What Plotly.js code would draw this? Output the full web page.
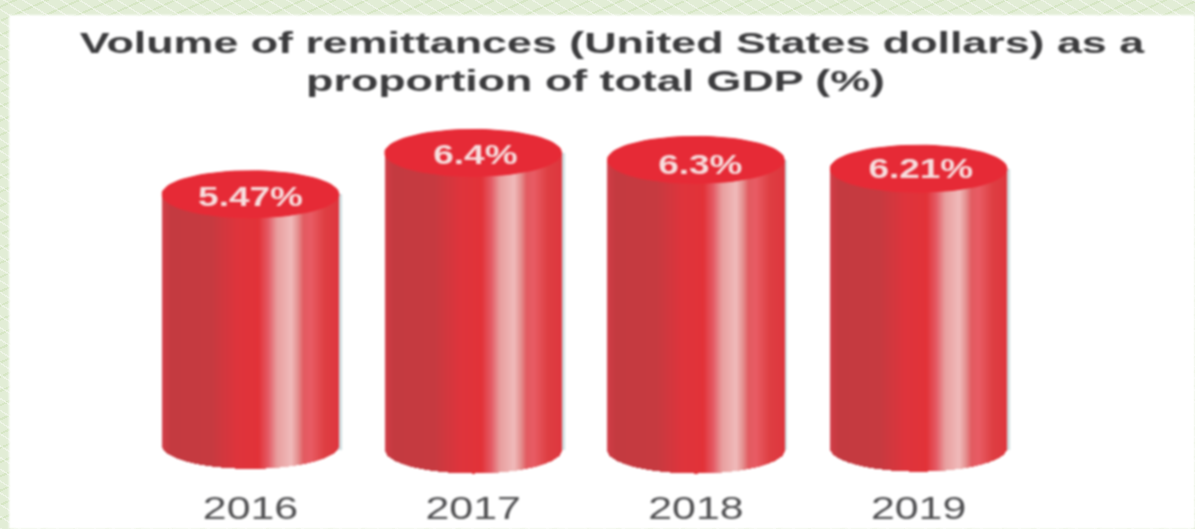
<!DOCTYPE html>
<html>
<head>
<meta charset="utf-8">
<script src="https://cdn.plot.ly/plotly-3.0.1.min.js"></script>
<style>
html,body{margin:0;padding:0;width:1195px;height:529px;overflow:hidden;}
body{background-color:#e2edd6;
background-image:
 repeating-linear-gradient(32deg,rgba(255,255,255,.4) 0 1.5px,transparent 1.5px 10px),
 repeating-linear-gradient(-24deg,rgba(200,222,176,.45) 0 2px,transparent 2px 13px);}
#chart{position:absolute;left:9px;top:15px;width:1186px;height:514px;filter:blur(1px);}
</style>
</head>
<body>
<div id="chart"></div>
<script>
var years = ["2016","2017","2018","2019"];
var valueLabels = ["5.47%","6.4%","6.3%","6.21%"];
// Column heights as they are drawn in the picture (the printed labels are in valueLabels)
var barHeights = [5.5,6.39,6.24,6.05];
var baseLift = [0.1,0,0,0.04];
var labelDrop = [0.1,0.1,0.17,0.05];

var stopPos = [0,0.015,0.05,0.28,0.42,0.545,0.6,0.65,0.73,0.77,0.8,0.84,0.92,1];
var stopCol = [[214,70,84],[205,60,68],[196,58,64],[198,58,64],[222,52,60],[226,50,56],[228,90,100],[232,158,158],[240,186,186],[228,140,140],[226,90,96],[232,92,100],[222,62,66],[222,54,62]];

var pxPerX = 222.7, pxPerY = 46.5;
var plotL = 0, plotW = 1186, plotT = 105, plotB = 470;
var x0px = 241.5, y0px = 435;
var barW = 177/pxPerX, ryV = 23.5/pxPerY;
var N = 177;

function colorAt(u){
  for(var i=1;i<stopPos.length;i++){
    if(u<=stopPos[i]){
      var t=(u-stopPos[i-1])/(stopPos[i]-stopPos[i-1]);
      var a=stopCol[i-1],b=stopCol[i];
      return 'rgb('+[0,1,2].map(function(k){return Math.round(a[k]+(b[k]-a[k])*t);}).join(',')+')';
    }
  }
  return 'rgb(222,54,62)';
}
var xIdx = years.map(function(_,i){return i;});
var traces = [];
traces.push({type:'bar',x:xIdx,y:barHeights,width:barW,offset:-barW/2+3/pxPerX,
  marker:{color:'rgba(190,210,212,0.75)',line:{width:0}},hoverinfo:'skip',showlegend:false});
for(var s=0;s<N;s++){
  (function(s){
    var u=(s+0.5)/N, dip=ryV*Math.sqrt(1-Math.pow(2*u-1,2));
    var bases=baseLift.map(function(l){return l-dip;});
    traces.push({
      type:'bar',x:xIdx,
      y:barHeights.map(function(v,i){return v-bases[i];}),
      base:bases,
      width:barW/N*1.3,
      offset:-barW/2+s*barW/N,
      marker:{color:colorAt(u),line:{width:0}},
      hoverinfo:'skip',showlegend:false
    });
  })(s);
}
barHeights.forEach(function(v,i){
  var xs=[],ys=[];
  for(var a=0;a<=72;a++){
    var th=a/72*2*Math.PI;
    xs.push(i+barW/2*Math.cos(th));
    ys.push(v+ryV*Math.sin(th));
  }
  traces.push({type:'scatter',mode:'lines',x:xs,y:ys,fill:'toself',fillcolor:'#e62a36',
    line:{color:'#ea2a36',width:1},hoverinfo:'skip',showlegend:false});
});
traces.push({type:'scatter',mode:'text',
  x:xIdx.map(function(i){return i+[0,0.01,0.02,0.01][i];}),
  y:barHeights.map(function(v,i){return v-labelDrop[i];}),
  text:valueLabels,textposition:'middle center',
  textfont:{family:'Liberation Sans, Arial, sans-serif',size:27,weight:'bold',color:'#f7dede'},
  hoverinfo:'skip',showlegend:false});

var layout = {
  width:1186,height:514,
  margin:{l:plotL,r:0,t:plotT,b:514-plotB,pad:0},
  paper_bgcolor:'#ffffff',plot_bgcolor:'rgba(0,0,0,0)',
  barmode:'overlay',bargap:0,showlegend:false,
  title:{text:'Volume of remittances (United States dollars) as a<br>proportion of total GDP (%)',
    x:603/1186,xanchor:'center',y:0.926,yanchor:'top',
    font:{family:'Liberation Sans, Arial, sans-serif',size:29,weight:'bold',color:'#3b3b3d'}},
  xaxis:{range:[(plotL-x0px)/pxPerX,(plotL+plotW-x0px)/pxPerX],tickmode:'array',tickvals:xIdx,ticktext:years,
    showgrid:false,zeroline:false,showline:false,ticks:'',ticklen:0,fixedrange:true,ticklabelstandoff:1,
    tickfont:{family:'Liberation Sans, Arial, sans-serif',size:32,color:'#505052'}},
  yaxis:{range:[(y0px-plotB)/pxPerY,(y0px-plotT)/pxPerY],showgrid:false,zeroline:false,showline:false,
    showticklabels:false,ticks:'',fixedrange:true},
  font:{family:'Liberation Sans, Arial, sans-serif'}
};
// The reference's lettering is horizontally stretched; widen the real text to match.
function stretch(el,sx,cx){
  if(cx===undefined){var b=el.getBBox();cx=b.x+b.width/2;}
  var t=el.getAttribute('transform')||'';
  el.setAttribute('transform',t+' translate('+cx+' 0) scale('+sx+' 1) translate('+(-cx)+' 0)');
}
Plotly.newPlot('chart',traces,layout,{displayModeBar:false,staticPlot:true}).then(function(gd){
  var title=gd.querySelector('.gtitle');
  var sxT=1.545;
  var lines=title.querySelectorAll('tspan.line');
  if(lines.length>1){
    var lx=parseFloat(lines[1].getAttribute('x'));
    lines[1].setAttribute('x',lx-16.5/sxT);
  }
  stretch(title,sxT,parseFloat(title.getAttribute('x')));
  gd.querySelectorAll('.xtick text').forEach(function(t){stretch(t,1.34);});
  gd.querySelectorAll('.textpoint text').forEach(function(t){stretch(t,1.37);});
});
</script>
</body>
</html>
